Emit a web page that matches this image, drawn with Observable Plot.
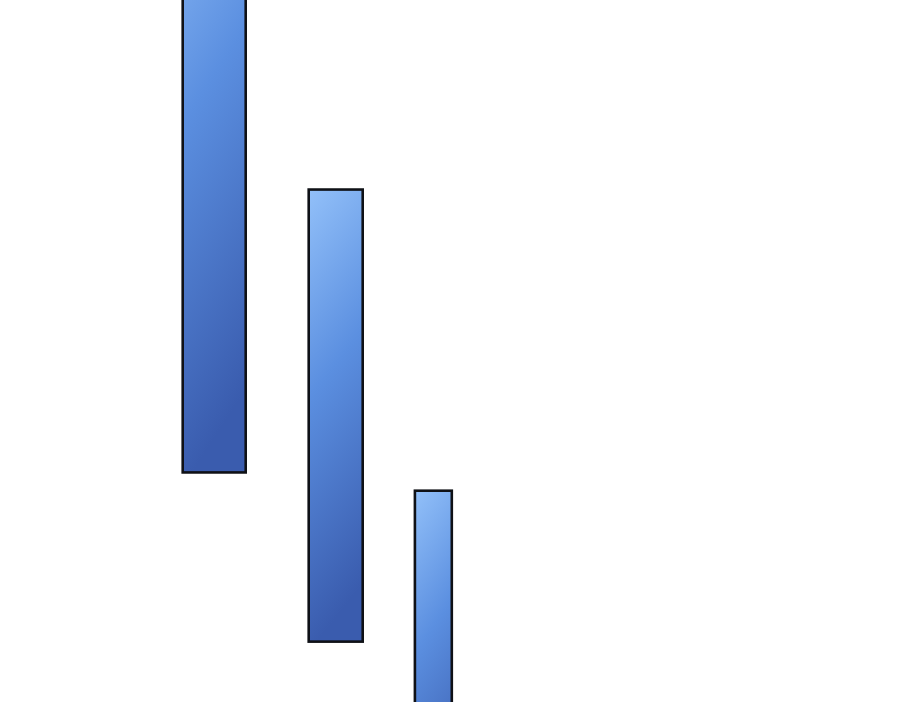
<!DOCTYPE html>
<html>
<head>
<meta charset="utf-8">
<script src="https://cdn.jsdelivr.net/npm/d3@7"></script>
<script src="https://cdn.jsdelivr.net/npm/@observablehq/plot@0.6"></script>
<style>
  html, body { margin: 0; padding: 0; background: #fff; overflow: hidden; }
  #chart svg { display: block; }
</style>
</head>
<body>
<div id="chart"></div>
<script>
// Floating bars (values in chart units, 0–100 on both axes)
const barNames = ["A", "B", "C"];
const barStart = [20.3, 34.3, 46.1];
const barEnd   = [27.3, 40.3, 50.2];
const barHigh  = [125, 73.0, 30.1];
const barLow   = [32.7, 8.6, -20];

const data = barNames.map((name, i) => ({
  name, x1: barStart[i], x2: barEnd[i], y1: barLow[i], y2: barHigh[i]
}));

const chart = Plot.plot({
  width: 900,
  height: 702,
  margin: 0,
  x: { domain: [0, 100], axis: null },
  y: { domain: [0, 100], axis: null },
  marks: [
    Plot.rect(data, {
      x1: "x1", x2: "x2", y1: "y1", y2: "y2",
      fill: "url(#barGrad)",
      stroke: "#0f1116",
      strokeWidth: 2.6,
      clip: true
    })
  ]
});

const ns = "http://www.w3.org/2000/svg";
const defs = document.createElementNS(ns, "defs");
const grad = document.createElementNS(ns, "linearGradient");
grad.setAttribute("id", "barGrad");
grad.setAttribute("x1", "0"); grad.setAttribute("y1", "0");
grad.setAttribute("x2", "0.15"); grad.setAttribute("y2", "1");
[["0%", "#92c0f9"], ["45%", "#5b8fe0"], ["100%", "#3a5cae"]].forEach(([o, c]) => {
  const s = document.createElementNS(ns, "stop");
  s.setAttribute("offset", o);
  s.setAttribute("stop-color", c);
  grad.appendChild(s);
});
defs.appendChild(grad);
chart.insertBefore(defs, chart.firstChild);

document.getElementById("chart").appendChild(chart);
</script>
</body>
</html>
